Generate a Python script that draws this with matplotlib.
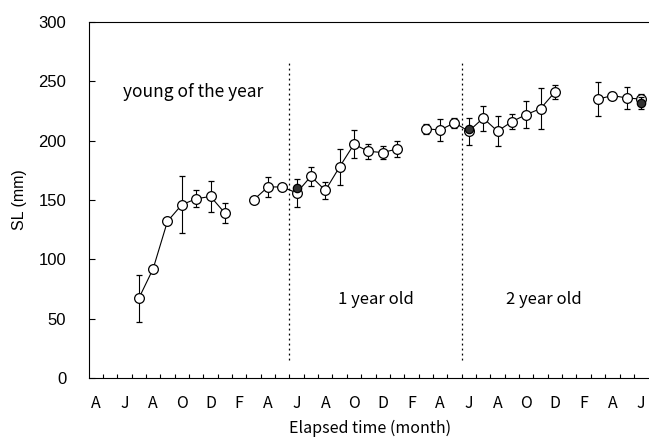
import matplotlib
matplotlib.use("Agg")
import matplotlib.pyplot as plt
import numpy as np

plt.rcParams['font.family'] = ['Liberation Sans', 'DejaVu Sans']
JP = ['Noto Sans CJK JP', 'DejaVu Sans']

# Month positions: 0 = start of April (year 1); month centres at i + 0.5
month_labels = ['A', 'J', 'A', 'O', 'D', 'F', 'A', 'J', 'A', 'O',
                'D', 'F', 'A', 'J', 'A', 'O', 'D', 'F', 'A', 'J']

# Series (open circles), month index of centre
s1_month = [3, 4, 5, 6, 7, 8, 9]
s1_mean = [67, 92, 132, 146, 151, 153, 139]
s1_err = [20, 2, 0, 24, 7, 13, 8.5]

s2_month = [11, 12, 13, 14, 15, 16, 17, 18, 19, 20, 21]
s2_mean = [150, 161, 161, 156, 170, 158, 178, 197, 191, 190, 193]
s2_err = [0, 8.5, 0, 12, 8, 7.5, 15, 12, 6.5, 5.5, 6.5]

s3_month = [23, 24, 25, 26, 27, 28, 29, 30, 31, 32]
s3_mean = [210, 209, 215, 208, 219, 208, 216, 222, 227, 241]
s3_err = [4, 9, 4, 11.5, 10.5, 12.5, 6.5, 11.5, 17, 6]

s4_month = [35, 36, 37, 38]
s4_mean = [235, 238, 236, 235]
s4_err = [14.5, 3, 9.5, 4]

# Filled circles (June samples)
f_month = [14, 26, 38]
f_mean = [160, 210, 232]
f_err = [0, 0, 5]

boundaries = [14, 26]

fig = plt.figure(figsize=(6.49, 4.38), dpi=100)
ax = fig.add_axes([0.1364, 0.137, 0.8624, 0.8128])

for m, v, e in [(s1_month, s1_mean, s1_err), (s2_month, s2_mean, s2_err),
                (s3_month, s3_mean, s3_err), (s4_month, s4_mean, s4_err)]:
    x = np.array(m) + 0.5
    ax.errorbar(x, v, yerr=e, fmt='-o', color='black', lw=0.8, elinewidth=0.8,
                capsize=2.5, capthick=0.8, ms=7, mfc='white', mec='black', mew=0.9,
                zorder=3)

ax.errorbar(np.array(f_month) + 0.5, f_mean, yerr=f_err, fmt='o', color='black',
            elinewidth=0.8, capsize=2.5, capthick=0.8, ms=6, mfc='#333333',
            mec='black', mew=0.9, zorder=4)

for b in boundaries:
    ax.plot([b, b], [15, 268], color='black', lw=0.9, ls=(0, (1.5, 2.5)), zorder=2)

ax.text(7.3, 241, 'young of the year', ha='center', va='center', fontsize=12.5,
        family=JP)
ax.text(20.0, 66, '1 year old', ha='center', va='center', fontsize=12, family=JP)
ax.text(31.7, 66, '2 year old', ha='center', va='center', fontsize=12, family=JP)

ax.set_xlim(0, 39)
ax.set_ylim(0, 300)
ax.set_yticks(np.arange(0, 301, 50))
ax.set_xticks(np.arange(len(month_labels)) * 2 + 0.5)
ax.set_xticklabels(month_labels, family=JP)
ax.set_xticks(np.arange(1, 39), minor=True)
ax.tick_params(axis='x', which='major', length=0, pad=12, labelsize=11.5)
ax.tick_params(axis='x', which='minor', direction='in', length=3, width=0.8)
ax.tick_params(axis='y', which='major', direction='in', length=4, width=0.8,
               labelsize=12, pad=16)
ax.spines['right'].set_visible(False)
for s in ['left', 'bottom', 'top']:
    ax.spines[s].set_linewidth(0.8)

ax.set_ylabel('SL (mm)', fontsize=11.5, labelpad=8)
fig.text(0.57, 1 - 428 / 438, 'Elapsed time (month)', ha='center', va='center',
         fontsize=11.5, family=JP)

fig.savefig('out.png', dpi=100)
